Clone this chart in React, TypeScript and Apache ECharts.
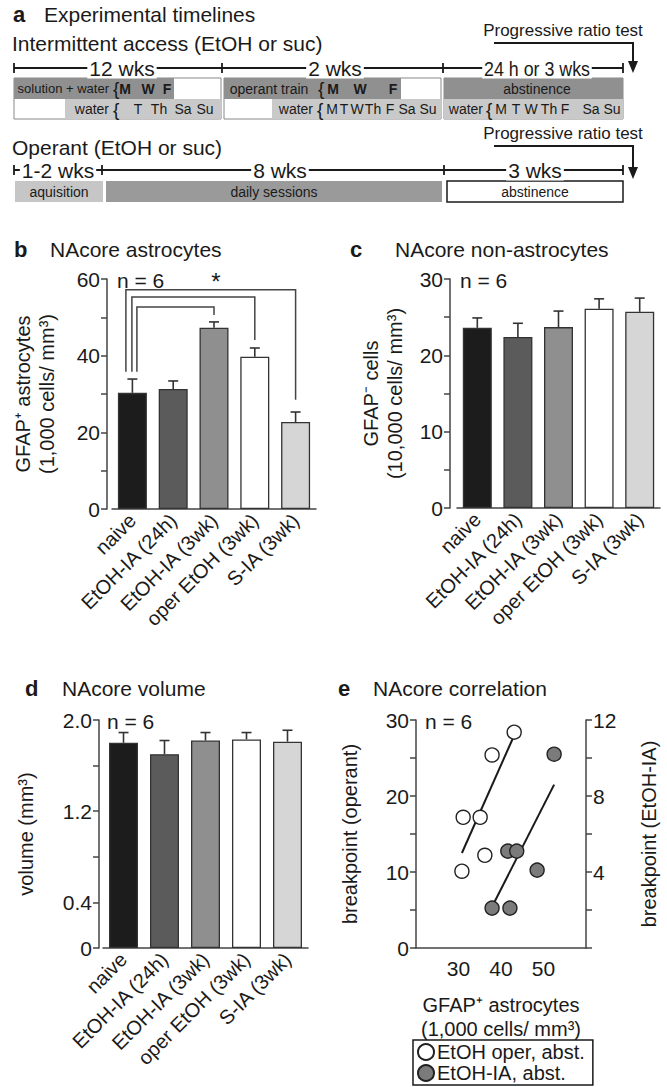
import React, { useEffect, useRef } from "react";
import * as echarts from "echarts";

// ---------- data ----------
const groups = ["naive", "EtOH-IA (24h)", "EtOH-IA (3wk)", "oper EtOH (3wk)", "S-IA (3wk)"];
const barColors = ["#1c1c1c", "#5b5b5b", "#8f8f8f", "#ffffff", "#d6d6d6"];

const astroMean = [30.3, 31.3, 47.3, 39.7, 22.7];
const astroSem = [3.6, 2.1, 1.5, 2.3, 2.6];
const astroTickLabels = [0, 20, 40, 60];

const sigFrom = [0, 0, 0];
const sigTo = [2, 3, 4];
const sigLevel = [52.7, 55.3, 57.2];
const sigLeftEnd = [35.8, 35.8, 35.8];
const sigRightEnd = [50.6, 44.1, 28.5];

const nonAstroMean = [23.6, 22.4, 23.7, 26.1, 25.7];
const nonAstroSem = [1.3, 1.8, 2.1, 1.3, 1.8];
const nonAstroTickLabels = [0, 10, 20, 30];

const volumeMean = [1.8, 1.7, 1.82, 1.83, 1.81];
const volumeSem = [0.09, 0.12, 0.07, 0.06, 0.1];
const volumeTickValues = [0, 0.4, 1.2, 2.0];
const volumeTickLabels = ["0", "0.4", "1.2", "2.0"];

const operantGfap = [43.1, 37.9, 31.1, 35.1, 36.2, 30.8];
const operantBreak = [28.4, 25.4, 17.2, 17.2, 12.2, 10.1];
const operantFit = [[30.8, 12.5], [42.8, 27.6]];
const iaGfap = [52.5, 41.6, 43.7, 48.5, 37.9, 42.1];
const iaBreak = [10.2, 5.1, 5.1, 4.1, 2.1, 2.1];
const iaFit = [[38.1, 2.26], [52.5, 8.6]];
const corrLeftLabels = [0, 10, 20, 30];
const corrRightLabels = [4, 8, 12];
const corrXLabels = [30, 40, 50];

const timeline1Labels = ["12 wks", "2 wks", "24 h or 3 wks"];
const timeline2Labels = ["1-2 wks", "8 wks", "3 wks"];
const weekDays = ["M", "T", "W", "Th", "F", "Sa", "Su"];
const drinkDays = ["M", "W", "F"];
const waterDays = ["T", "Th", "Sa", "Su"];

// ---------- helpers ----------
const FONT = "'Liberation Sans', Arial, Helvetica, sans-serif";
const NARROW = "'Liberation Sans Narrow', 'Liberation Sans', Arial, sans-serif";
const INK = "#1a1a1a";
const AX = "#444";

function T(x: number, y: number, text: string, size = 14, opts: any = {}) {
  return {
    type: "text",
    x,
    y,
    z: 5,
    scaleX: opts.sx || 1,
    style: {
      text,
      fontSize: size,
      fontFamily: opts.family || FONT,
      fontWeight: opts.bold ? "bold" : "normal",
      fill: INK,
      align: opts.align || "left",
      verticalAlign: "middle",
      backgroundColor: opts.bg,
      padding: opts.pad,
    },
  };
}
function R(x1: number, y1: number, x2: number, y2: number, fill: string, stroke?: string, lw = 1) {
  return {
    type: "rect",
    z: 1,
    shape: { x: x1, y: y1, width: x2 - x1, height: y2 - y1 },
    style: { fill, stroke: stroke || "none", lineWidth: lw },
  };
}
function L(x1: number, y1: number, x2: number, y2: number, lw = 1.8) {
  return { type: "line", z: 2, shape: { x1, y1, x2, y2 }, style: { stroke: INK, lineWidth: lw } };
}

function timeline(y: number, ticks: number[], labels: string[], centers: number[], sx: number[]) {
  const els: any[] = [L(ticks[0], y, ticks[ticks.length - 1], y)];
  ticks.forEach((t) => els.push({ ...L(t, y - 5, t, y + 5), z: 7 }));
  labels.forEach((lab, i) =>
    els.push({ ...T(centers[i], y, lab, 21, { align: "center", bg: "#fff", pad: [0, 2], sx: sx[i] }), z: 6 })
  );
  return els;
}

function arrow(textY: number, lineY: number, tipY: number) {
  return [
    T(563, textY, "Progressive ratio test", 17, { align: "center", family: NARROW }),
    { type: "polyline", z: 2, shape: { points: [[494, lineY], [633, lineY], [633, tipY - 10]] }, style: { stroke: INK, lineWidth: 2, fill: "none" } },
    { type: "polygon", z: 2, shape: { points: [[628, tipY - 12], [638, tipY - 12], [633, tipY]] }, style: { fill: INK } },
  ];
}

function panelA() {
  const DARK = "#909090";
  const LIGHT = "#c9c9c9";
  const els: any[] = [];
  els.push(T(13, 14, "a", 22, { bold: true }));
  els.push(T(44, 14, "Experimental timelines", 21));
  els.push(T(12, 43, "Intermittent access (EtOH or suc)", 21));
  els.push(...arrow(30, 43, 73));
  els.push(...timeline(68, [14, 222, 443, 623], timeline1Labels, [122, 335, 537], [1, 1, 0.85]));
  // box 1
  els.push(R(14, 78, 221, 119, "#fff", "#888", 1));
  els.push(R(14, 78, 174, 99, DARK));
  els.push(R(65, 99, 221, 119, LIGHT));
  // box 2
  els.push(R(224, 78, 441, 119, "#fff", "#888", 1));
  els.push(R(224, 78, 401, 99, DARK));
  els.push(R(272, 99, 441, 119, LIGHT));
  // box 3
  els.push(R(444, 78, 623, 119, "#fff", "#888", 1));
  els.push(R(444, 78, 623, 99, DARK));
  els.push(R(444, 99, 623, 119, LIGHT));
  const r1 = 88.5;
  const r2 = 109;
  const s = 14;
  // box1 texts
  els.push(T(109, r1, "solution + water", 13, { align: "right", family: NARROW }));
  els.push(T(113, r1, "{", 19));
  [125, 148, 167].forEach((x, i) => els.push(T(x, r1, drinkDays[i], s, { bold: true, align: "center" })));
  els.push(T(109, r2, "water", s, { align: "right" }));
  els.push(T(113, r2, "{", 19));
  [138, 159, 183, 205].forEach((x, i) => els.push(T(x, r2, waterDays[i], s, { align: "center" })));
  // box2 texts
  els.push(T(269, r1, "operant train", s, { align: "center", family: NARROW }));
  els.push(T(318, r1, "{", 19));
  [333, 360, 393].forEach((x, i) => els.push(T(x, r1, drinkDays[i], s, { bold: true, align: "center" })));
  els.push(T(313, r2, "water", s, { align: "right" }));
  els.push(T(317, r2, "{", 19));
  [332, 344, 357, 373, 390, 407, 428].forEach((x, i) => els.push(T(x, r2, weekDays[i], s, { align: "center" })));
  // box3 texts
  els.push(T(537, r1, "abstinence", s, { align: "center" }));
  els.push(T(483, r2, "water", s, { align: "right" }));
  els.push(T(486, r2, "{", 19));
  [501, 516, 531, 549, 565, 591, 612].forEach((x, i) => els.push(T(x, r2, weekDays[i], s, { align: "center" })));

  // operant timeline
  els.push(T(12, 147, "Operant (EtOH or suc)", 21));
  els.push(...arrow(133, 146, 179));
  els.push(...timeline(170, [14, 102, 444, 623], timeline2Labels, [58, 280, 535], [1, 1, 1]));
  els.push(R(15, 181, 103, 202, "#c6c6c6"));
  els.push(R(106, 181, 442, 202, "#9a9a9a"));
  els.push(R(447, 181, 623, 202, "#fff", INK, 1.5));
  els.push(T(59, 191.5, "aquisition", s, { align: "center" }));
  els.push(T(274, 191.5, "daily sessions", s, { align: "center" }));
  els.push(T(535, 191.5, "abstinence", s, { align: "center" }));
  return els;
}

function panelTitles() {
  return [
    T(14, 249, "b", 22, { bold: true }),
    T(50, 249, "NAcore astrocytes", 21),
    T(350, 249, "c", 22, { bold: true }),
    T(395, 249, "NAcore non-astrocytes", 21),
    T(25, 688, "d", 22, { bold: true }),
    T(62, 688, "NAcore volume", 21),
    T(338, 688, "e", 22, { bold: true }),
    T(373, 688, "NAcore correlation", 21),
    T(117, 280, "n = 6", 21),
    T(460, 280, "n = 6", 21),
    T(107, 721, "n = 6", 21),
    T(425, 721, "n = 6", 21),
  ];
}

// ---------- axes ----------
function catX(gridIndex: number) {
  return {
    type: "category",
    gridIndex,
    data: groups,
    axisLine: { lineStyle: { color: AX, width: 1.5 } },
    axisTick: { show: false },
    axisLabel: { rotate: 45, fontSize: 20, color: INK, margin: 8, interval: 0, fontFamily: FONT },
  };
}
function valY(gridIndex: number, max: number, interval: number, fmt: (v: number) => string, name: string, nameGap: number, offset: number, extra: any = {}) {
  return {
    type: "value",
    gridIndex,
    min: 0,
    max,
    interval,
    offset,
    axisLine: { show: true, lineStyle: { color: AX, width: 1.5 } },
    axisTick: { show: true, length: 6, lineStyle: { color: AX, width: 1.5 } },
    splitLine: { show: false },
    axisLabel: { formatter: fmt, fontSize: 21, color: INK, margin: 7, fontFamily: FONT },
    name,
    nameLocation: "middle",
    nameRotate: 90,
    nameGap,
    nameTextStyle: { fontSize: 20, color: INK, lineHeight: 24, fontFamily: FONT },
    ...extra,
  };
}

const errorRender = (params: any, api: any) => {
  const x = api.value(0);
  const m = api.value(1);
  const sd = api.value(2);
  const p0 = api.coord([x, m]);
  const p1 = api.coord([x, m + sd]);
  return {
    type: "group",
    children: [
      { type: "line", shape: { x1: p0[0], y1: p0[1], x2: p1[0], y2: p1[1] }, style: { stroke: "#333", lineWidth: 1.6 } },
      { type: "line", shape: { x1: p1[0] - 5, y1: p1[1], x2: p1[0] + 5, y2: p1[1] }, style: { stroke: "#333", lineWidth: 1.6 } },
    ],
  };
};

const legOffsets = [4.5, -0.5, -6.5];
const bracketRender = (params: any, api: any) => {
  const from = api.value(0);
  const to = api.value(1);
  const lvl = api.value(2);
  const le = api.value(3);
  const re = api.value(4);
  const off = legOffsets[params.dataIndex];
  const a = api.coord([from, lvl]);
  const b = api.coord([to, lvl]);
  const aEnd = api.coord([from, le]);
  const bEnd = api.coord([to, re]);
  return {
    type: "polyline",
    shape: { points: [[a[0] + off, aEnd[1]], [a[0] + off, a[1]], [b[0], b[1]], [b[0], bEnd[1]]] },
    style: { stroke: "#444", lineWidth: 1.5, fill: "none" },
  };
};

function barSeries(idx: number, mean: number[], sem: number[]) {
  return [
    {
      type: "bar",
      xAxisIndex: idx,
      yAxisIndex: idx,
      barWidth: 29,
      data: mean.map((v, i) => ({ value: v, itemStyle: { color: barColors[i] } })),
      itemStyle: { borderColor: "#333", borderWidth: 1.3 },
      z: 2,
    },
    {
      type: "custom",
      xAxisIndex: idx,
      yAxisIndex: idx,
      renderItem: errorRender,
      data: mean.map((v, i) => [i, v, sem[i]]),
      z: 3,
    },
  ];
}

function buildOption() {
  const fmtList = (list: number[]) => (v: number) => (list.some((t) => Math.abs(t - v) < 1e-6) ? String(v) : "");
  return {
    animation: false,
    backgroundColor: "#fff",
    textStyle: { fontFamily: FONT },
    grid: [
      { left: 112, top: 279, width: 204, height: 230 },
      { left: 457, top: 279, width: 203, height: 229 },
      { left: 103, top: 720, width: 205, height: 228 },
      { left: 416, top: 720, width: 170, height: 228 },
    ],
    xAxis: [
      catX(0),
      catX(1),
      catX(2),
      {
        type: "value",
        gridIndex: 3,
        min: 20,
        max: 60,
        interval: 10,
        axisLine: { show: true, lineStyle: { color: AX, width: 1.5 } },
        axisTick: { show: false },
        splitLine: { show: false },
        axisLabel: { formatter: fmtList(corrXLabels), fontSize: 21, color: INK, margin: 10, fontFamily: FONT },
        name: "GFAP⁺ astrocytes\n(1,000 cells/ mm³)",
        nameLocation: "middle",
        nameGap: 45,
        nameTextStyle: { fontSize: 20, color: INK, lineHeight: 24, fontFamily: FONT, verticalAlign: "top" },
      },
    ],
    yAxis: [
      valY(0, 60, 10, fmtList(astroTickLabels), "GFAP⁺ astrocytes\n(1,000 cells/ mm³)", 48, 5),
      valY(1, 30, 5, fmtList(nonAstroTickLabels), "GFAP⁻ cells\n(10,000 cells/ mm³)", 43, 7),
      valY(
        2,
        2.0,
        0.4,
        (v: number) => {
          const k = volumeTickValues.findIndex((t) => Math.abs(t - v) < 1e-6);
          return k >= 0 ? volumeTickLabels[k] : "";
        },
        "volume (mm³)",
        61,
        4
      ),
      valY(3, 30, 5, fmtList(corrLeftLabels), "breakpoint (operant)", 54, 0),
      valY(3, 12, 2, fmtList(corrRightLabels), "breakpoint (EtOH-IA)", 51, 0, { position: "right" }),
    ],
    legend: {
      orient: "vertical",
      left: 413,
      top: 1040,
      data: ["EtOH oper, abst.", "EtOH-IA, abst."],
      borderColor: INK,
      borderWidth: 1.5,
      padding: [2, 8, 2, 4],
      itemGap: 1,
      itemWidth: 16,
      itemHeight: 16,
      icon: "circle",
      textStyle: { fontSize: 20, color: INK, fontFamily: FONT, padding: [0, 0, 0, -2] },
    },
    series: [
      ...barSeries(0, astroMean, astroSem),
      {
        type: "custom",
        xAxisIndex: 0,
        yAxisIndex: 0,
        renderItem: bracketRender,
        data: sigFrom.map((f, i) => [f, sigTo[i], sigLevel[i], sigLeftEnd[i], sigRightEnd[i]]),
        z: 3,
      },
      ...barSeries(1, nonAstroMean, nonAstroSem),
      ...barSeries(2, volumeMean, volumeSem),
      {
        type: "line",
        xAxisIndex: 3,
        yAxisIndex: 3,
        data: operantFit,
        symbol: "none",
        lineStyle: { color: INK, width: 2 },
        z: 2,
      },
      {
        type: "line",
        xAxisIndex: 3,
        yAxisIndex: 4,
        data: iaFit,
        symbol: "none",
        lineStyle: { color: INK, width: 2 },
        z: 2,
      },
      {
        name: "EtOH oper, abst.",
        type: "scatter",
        xAxisIndex: 3,
        yAxisIndex: 3,
        symbolSize: 14,
        data: operantGfap.map((x, i) => [x, operantBreak[i]]),
        itemStyle: { color: "#fff", borderColor: "#222", borderWidth: 1.4, opacity: 1 },
        z: 4,
      },
      {
        name: "EtOH-IA, abst.",
        type: "scatter",
        xAxisIndex: 3,
        yAxisIndex: 4,
        symbolSize: 14,
        data: iaGfap.map((x, i) => [x, iaBreak[i]]),
        itemStyle: { color: "#7b7b7b", borderColor: "#222", borderWidth: 1.4, opacity: 1 },
        z: 4,
      },
    ],
    graphic: [
      ...panelA(),
      ...panelTitles(),
      T(216, 281, "*", 24, { align: "center" }),
    ],
  };
}

export default function App() {
  const ref = useRef<HTMLDivElement>(null);
  useEffect(() => {
    if (!ref.current) return;
    const chart = echarts.init(ref.current, undefined, { renderer: "svg" });
    chart.setOption(buildOption() as any);
    return () => chart.dispose();
  }, []);
  return <div ref={ref} style={{ position: "absolute", left: 0, top: 0, width: 667, height: 1087 }} />;
}
